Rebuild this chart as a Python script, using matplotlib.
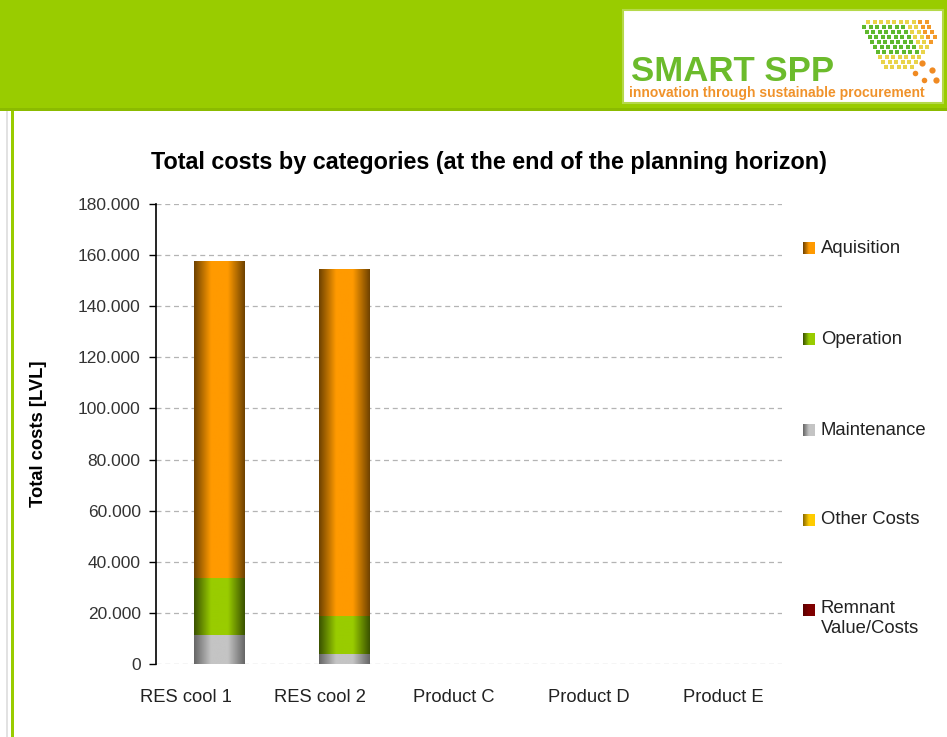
import numpy as np
import matplotlib
matplotlib.use('Agg')
import matplotlib.pyplot as plt
from matplotlib.colors import LinearSegmentedColormap
from matplotlib.patches import Rectangle

plt.rcParams['font.family'] = ['Liberation Sans', 'DejaVu Sans']

# --- data ---
products = ['RES cool 1', 'RES cool 2', 'Product C', 'Product D', 'Product E']
maintenance = [11300, 3900, 0, 0, 0]
operation = [22300, 15000, 0, 0, 0]
aquisition = [124100, 135700, 0, 0, 0]
other_costs = [0, 0, 0, 0, 0]
remnant = [0, 0, 0, 0, 0]
legend_labels = ['Aquisition', 'Operation', 'Maintenance', 'Other Costs',
                 'Remnant\nValue/Costs']
y_ticks = [0, 20000, 40000, 60000, 80000, 100000, 120000, 140000, 160000, 180000]

# (edge, centre) colours for the cylinder-like shading
shades = {
    'Aquisition': ('#6e4200', '#ff9a00'),
    'Operation': ('#3a5200', '#99cc00'),
    'Maintenance': ('#666666', '#c4c4c4'),
    'Other Costs': ('#8a6a00', '#ffcc00'),
    'Remnant': ('#5a0000', '#800000'),
}

W, H = 947, 737
fig = plt.figure(figsize=(W / 100, H / 100), dpi=100)

# background layer in pixel coordinates
bg = fig.add_axes([0, 0, 1, 1], zorder=0)
bg.set_xlim(0, W)
bg.set_ylim(H, 0)
bg.axis('off')
bg.add_patch(Rectangle((0, 0), W, 110, color='#99cc00', lw=0))
bg.add_patch(Rectangle((0, 108), W, 3, color='#8bbb00', lw=0))
bg.add_patch(Rectangle((6, 111), 2, H - 111, color='#e2e2e2', lw=0))
bg.add_patch(Rectangle((11, 111), 3, H - 111, color='#99cc00', lw=0))

# logo box
bg.add_patch(Rectangle((623, 10), 320, 93, facecolor='white',
                       edgecolor='#b5d94a', lw=1.5))
bg.text(631, 81, 'SMART SPP', fontsize=25, fontweight='bold',
        color='#6cbb2c', va='baseline', ha='left')
bg.text(629, 97, 'innovation through sustainable procurement', fontsize=10,
        fontweight='bold', color='#f0922a', va='baseline', ha='left')
# dot-matrix emblem of the logo (decoration)
for r in range(10):
    for c in range(13):
        if c < r - 1 or c > r + 9:
            continue
        x = 868 + c * 6.5 - r * 3.8
        y = 22 + r * 5.0
        if 3 <= c - r + 4 <= 9 and 1 <= r <= 6:
            col = '#5fb82e'
        elif c > r + 7:
            col = '#f39a2a'
        else:
            col = '#e9d34a'
        bg.plot(x, y, 's', ms=2.4, color=col, mew=0)
for (x, y, s) in [(922, 63, 4.5), (932, 70, 4.5), (915, 73, 4), (936, 80, 4.5),
                  (924, 80, 4)]:
    bg.plot(x, y, 'o', ms=s, color='#f08a22', mew=0)


def cylinder_cmap(edge, centre):
    return LinearSegmentedColormap.from_list('c', [edge, centre, centre, edge],
                                             N=256)


def shade_patch(axis, patch, edge, centre):
    x0, y0 = patch.get_x(), patch.get_y()
    w, h = patch.get_width(), patch.get_height()
    if h <= 0:
        return
    grad = np.linspace(0, 1, 200)[None, :]
    img = axis.imshow(grad, cmap=cylinder_cmap(edge, centre), aspect='auto',
                      extent=[x0, x0 + w, y0, y0 + h], zorder=3,
                      interpolation='bilinear')
    img.set_clip_path(patch)
    patch.set_facecolor('none')


# main chart
ax = fig.add_axes([156 / W, 1 - 664 / H, 626 / W, 460 / H], zorder=1)
ax.patch.set_alpha(0)
x = np.arange(len(products))
bw = 0.4

bottom = np.zeros(len(products))
stacks = [('Maintenance', maintenance), ('Operation', operation),
          ('Aquisition', aquisition), ('Other Costs', other_costs),
          ('Remnant', remnant)]
for name, vals in stacks:
    bars = ax.bar(x, vals, bw, bottom=bottom, linewidth=0, zorder=3)
    for p in bars:
        shade_patch(ax, p, *shades[name])
    bottom += np.array(vals)

ax.set_xlim(-0.5, len(products) - 0.5)
ax.set_ylim(0, 180000)
ax.set_yticks(y_ticks)
ax.set_yticklabels([f'{v:,}'.replace(',', '.') for v in y_ticks],
                   fontsize=12.5, color='#333333')
ax.tick_params(axis='y', length=5, width=1, pad=6, direction='out')
ax.set_xticks([])
for s in ['top', 'right', 'bottom']:
    ax.spines[s].set_visible(False)
ax.spines['left'].set_linewidth(1.2)
ax.yaxis.grid(True, color='#b4b4b4', linestyle=(0, (4, 3)), lw=0.9)
ax.set_axisbelow(True)

# category labels (Excel puts them a little off the bar centres)
label_pos = [-0.26, 0.81, 1.88, 2.96, 4.03]
for lp, name in zip(label_pos, products):
    ax.text(lp, -0.072, name, transform=ax.get_xaxis_transform(),
            ha='center', va='center', fontsize=13.2, color='#222222')

ax.set_ylabel('Total costs [LVL]', fontsize=13.2, fontweight='bold',
              labelpad=22)

fig.text(489 / W, 1 - 163 / H,
         'Total costs by categories (at the end of the planning horizon)',
         ha='center', va='center', fontsize=16.8, fontweight='bold')

# legend
leg_y = [248, 339, 430, 520, 610]
leg_keys = ['Aquisition', 'Operation', 'Maintenance', 'Other Costs', 'Remnant']
for yy, key, lab in zip(leg_y, leg_keys, legend_labels):
    edge, centre = shades[key]
    grad = np.linspace(0, 1, 50)[None, :]
    cm = LinearSegmentedColormap.from_list('l', [edge, centre, centre])
    bg.imshow(grad, cmap=cm, aspect='auto', extent=[803, 815, yy + 6, yy - 6],
              zorder=2)
    bg.text(821, yy - 10 if '\n' in lab else yy, lab, fontsize=13.3,
            color='#222222', va='top' if '\n' in lab else 'center',
            ha='left', linespacing=1.2)

bg.set_xlim(0, W)
bg.set_ylim(H, 0)

fig.savefig('out.png', dpi=100)
